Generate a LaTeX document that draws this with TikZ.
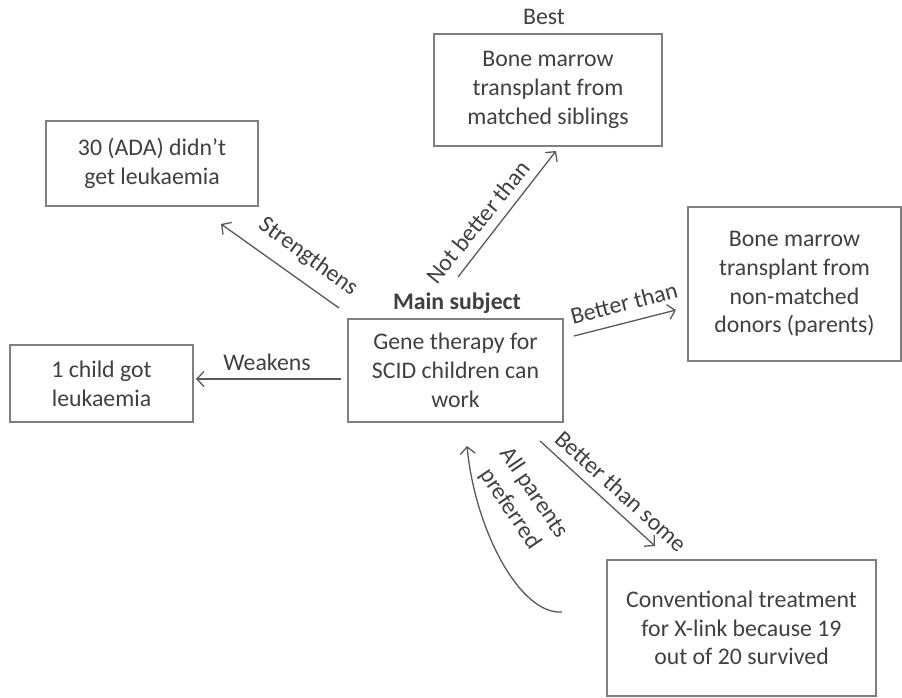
\documentclass[tikz,border=0pt]{standalone}
\usepackage{fontspec}
\setmainfont{Carlito}
\usetikzlibrary{arrows.meta}
\definecolor{txt}{HTML}{404040}
\definecolor{bord}{HTML}{7F7F7F}
\definecolor{arr}{HTML}{595959}
\begin{document}
\begin{tikzpicture}[x=1pt,y=-1pt,
  every node/.style={font=\fontsize{23.8}{28.8}\selectfont},
  box/.style={draw=bord,line width=2pt,text=txt,align=center,inner sep=0pt},
  lbl/.style={text=txt,inner sep=0pt,align=center},
  conn/.style={draw=arr,line width=1.3pt,-{Straight Barb[length=7pt,width=15pt,line width=1.3pt]}}]
\useasboundingbox (0,0) rectangle (902,698);
% boxes
\node[box,minimum width=228pt,minimum height=112pt] (sib) at (548,90) {Bone marrow\\transplant from\\matched siblings};
\node[box,minimum width=212pt,minimum height=85pt] (ada) at (152,163.5) {30 (ADA) didn’t\\get leukaemia};
\node[box,minimum width=183pt,minimum height=77pt] (one) at (101.5,383.5) {1 child got\\leukaemia};
\node[box,minimum width=215pt,minimum height=103pt] (main) at (455.5,370.5) {Gene therapy for\\SCID children can\\work};
\node[box,minimum width=213pt,minimum height=154pt] (nm) at (794.5,284) {Bone marrow\\transplant from\\non-matched\\donors (parents)};
\node[box,minimum width=269pt,minimum height=136pt] (conv) at (741.5,628) {Conventional treatment\\for X-link because 19\\out of 20 survived};
% titles
\node[lbl,font=\fontsize{23.8}{28.8}\selectfont\bfseries] (mainlbl) at (457,303) {Main subject};
\node[lbl] (best) at (544,17) {Best};
% connector end points
\coordinate (strS) at ([shift={(-8,-10)}]main.north west);
\coordinate (strE) at ([shift={(-38,17)}]ada.south east);
\coordinate (weaS) at ([shift={(-6,8.5)}]main.west);
\coordinate (weaE) at ([shift={(2,-4.5)}]one.east);
\coordinate (nbS) at ([shift={(2.5,-41)}]main.north);
\coordinate (nbE) at ([shift={(8,4)}]sib.south);
\coordinate (btS) at ([shift={(10,18)}]main.north east);
\coordinate (btE) at ([shift={(-11,26)}]nm.west);
\coordinate (bsS) at ([shift={(-24,18)}]main.south east);
\coordinate (bsE) at ([shift={(-86.5,-13)}]conv.north);
\coordinate (apS) at ([shift={(-44,-16)}]conv.west);
\coordinate (apE) at ([shift={(11.5,23)}]main.south);
% connectors
\draw[conn] (strS) -- (strE);
\draw[conn] (weaS) -- (weaE);
\draw[conn] (nbS) -- (nbE);
\draw[conn] (btS) -- (btE);
\draw[conn] (bsS) -- (bsE);
\draw[conn] (apS) .. controls (520,615) and (475,530) .. (apE);
% connector labels
\node[lbl,rotate=-36] (lstr) at (308,257) {Strengthens};
\node[lbl] (lwea) at (267,362) {Weakens};
\node[lbl,rotate=51] (lnb) at (478,222) {Not better than};
\node[lbl,rotate=14.5] (lbt) at (624,303) {Better than};
\node[lbl,rotate=-42] (lbs) at (621,491) {Better than some};
\node[lbl,rotate=-56] (lap) at (522,501) {All parents\\preferred};
\end{tikzpicture}
\end{document}
